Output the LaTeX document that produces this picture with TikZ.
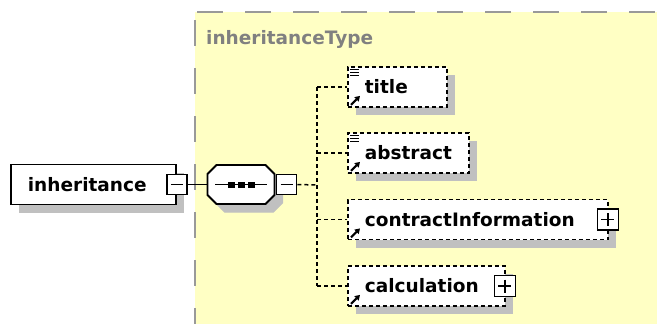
\documentclass[tikz,border=0pt]{standalone}
\usepackage{fontspec}
\setmainfont{DejaVu Sans}
\usetikzlibrary{arrows.meta,shadows}

\definecolor{typebg}{RGB}{255,255,196}
\definecolor{typeline}{RGB}{153,153,153}
\definecolor{typetext}{RGB}{128,128,128}
\definecolor{shadowgray}{RGB}{192,192,192}

\newcommand\elemfont{\fontsize{18.5}{20}\selectfont\bfseries}

\tikzset{
  elem/.style={draw, line width=1.8pt, fill=white, anchor=west,
    minimum height=40pt, inner xsep=0pt, inner ysep=0pt,
    text width=#1pt, align=left, font=\elemfont,
    drop shadow={shadow xshift=8pt, shadow yshift=-8pt, opacity=1, fill=shadowgray}},
  refelem/.style={elem=#1, dash pattern=on 4pt off 3pt},
  switch/.style={draw, line width=1.6pt, fill=white, minimum size=20pt, inner sep=0pt,
    path picture={\draw[line width=1.5pt] ([xshift=4pt]path picture bounding box.west)
      -- ([xshift=-4pt]path picture bounding box.east);}},
  switchplus/.style={draw, line width=1.6pt, fill=white, minimum size=21pt, inner sep=0pt,
    path picture={\draw[line width=1.5pt] ([xshift=4pt]path picture bounding box.west)
      -- ([xshift=-4pt]path picture bounding box.east)
      ([yshift=-4pt]path picture bounding box.north)
      -- ([yshift=4pt]path picture bounding box.south);}},
  seqbox/.style={rectangle, minimum width=67pt, minimum height=39pt, inner sep=0pt},
  conn/.style={line width=1.5pt, dash pattern=on 4pt off 3pt},
  typeborder/.style={line width=2pt, typeline, dash pattern=on 26pt off 22pt},
  reficon/.style={line width=2pt, -{Triangle[length=5pt,width=6pt]}},
}

\begin{document}
\begin{tikzpicture}[x=1pt,y=-1pt]
\useasboundingbox (0,0) rectangle (657,324);

% complex type area
\fill[typebg] (195,12) rectangle (657,324);
\draw[typeborder] (197,12) -- (657,12);
\draw[typeborder] (195,20) -- (195,324);
\node[anchor=west, text=typetext, font=\elemfont, inner sep=0pt] (typename) at (206,39) {inheritanceType};

% shadow of the sequence octagon
\path[fill=shadowgray, draw=shadowgray, line width=1pt] (224.5,173) -- (273.5,173) -- (282.5,182) -- (282.5,203)
  -- (273.5,212) -- (224.5,212) -- (215.5,203) -- (215.5,182) -- cycle;

% root element and sequence
\node[elem=165] (inh) at (10,184.5) {\hspace*{17pt}inheritance};
\node[switch] (inh-sw) at (inh.east) {};
\filldraw[fill=white, line width=1.8pt] (216.5,165) -- (265.5,165) -- (274.5,174) -- (274.5,195)
  -- (265.5,204) -- (216.5,204) -- (207.5,195) -- (207.5,174) -- cycle;
\node[seqbox] (seq) at (241,184.5) {};
\node[switch] (seq-sw) at (286.5,184.5) {};
\draw[line width=1.6pt] ([xshift=-26pt]seq.center) -- ([xshift=26pt]seq.center);
\foreach \d in {-10,0,10}
  \fill ([xshift=\d pt]seq.center) +(-3.5,-3) rectangle +(3.5,3);

% child elements
\node[refelem=99] (title) at (347,87) {\hspace*{17pt}title};
\node[refelem=121] (abstract) at (347,153) {\hspace*{17pt}abstract};
\node[refelem=260] (contract) at (347,219.5) {\hspace*{17pt}contractInformation};
\node[refelem=157] (calc) at (347,286) {\hspace*{17pt}calculation};
\node[switchplus] (contract-sw) at ([xshift=-1pt]contract.east) {};
\node[switchplus] (calc-sw) at ([xshift=-1pt]calc.east) {};

% reference and annotation icons
\foreach \n in {title,abstract,contract,calc}
  \draw[reficon] ([shift={(4,-3)}]\n.south west) -- ++(9,-9);
\foreach \n in {title,abstract}
  \foreach \k in {3.5,6.5,9.5}
    \draw[line width=1.3pt] ([shift={(3,\k)}]\n.north west) -- ++(9,0);

% connectors
\coordinate (fork) at (317,185);
\draw[line width=1.8pt] (inh-sw.east) -- (seq.west);
\draw[conn] (seq-sw.east) -- (fork);
\draw[conn] (fork |- title.west) -- (fork |- calc.west);
\foreach \n in {title,abstract,contract,calc}
  \draw[conn] (fork |- \n.west) -- (\n.west);
\end{tikzpicture}
\end{document}
